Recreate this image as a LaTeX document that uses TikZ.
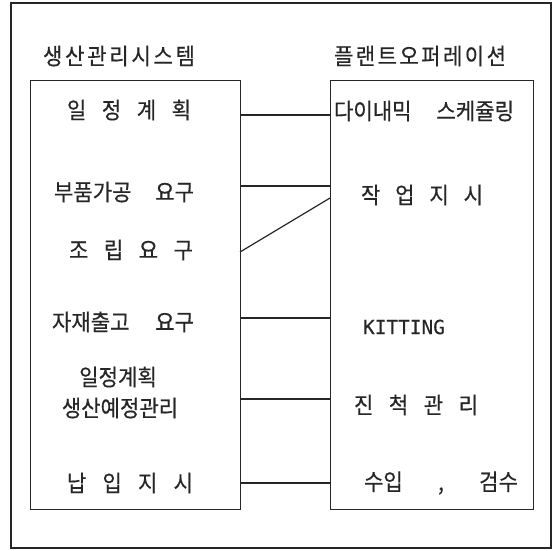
\documentclass[tikz,border=0pt]{standalone}
\usepackage{fontspec}
\setmainfont{Noto Sans CJK KR}
\newfontfamily\kr[FakeStretch=0.92,FakeBold=0.4]{Noto Sans CJK KR}
\newfontfamily\monofont[FakeBold=0.3]{DejaVu Sans Mono}
\newcommand{\spreadtxt}[2]{\makebox[#1bp][s]{#2}}
\begin{document}
\begin{tikzpicture}[x=1bp,y=-1bp,
  frame/.style={draw=black!85,line width=1.2bp},
  link/.style={draw=black!85,line width=1.2bp},
  lbl/.style={inner sep=0pt,font=\kr\fontsize{23}{26}\selectfont,text=black!85},
  mono/.style={inner sep=0pt,font=\monofont\fontsize{19.5}{22}\selectfont,text=black!85}]
\useasboundingbox (0,0) rectangle (556,551);
% outer frame
\draw[frame] (11,3) rectangle (551,548);
% boxes
\node[frame,inner sep=0pt,minimum width=210bp,minimum height=429bp,anchor=north west] (L) at (30,80) {};
\node[frame,inner sep=0pt,minimum width=203bp,minimum height=429bp,anchor=north west] (R) at (330,80) {};
% titles
\node[lbl] (tl) at (119,56) {\spreadtxt{152}{생\hfill 산\hfill 관\hfill 리\hfill 시\hfill 스\hfill 템}};
\node[lbl] (tr) at (420,56) {\spreadtxt{172}{플\hfill 랜\hfill 트\hfill 오\hfill 퍼\hfill 레\hfill 이\hfill 션}};
% left items
\node[lbl] (a1) at (129,110) {\spreadtxt{124}{일\hfill 정\hfill 계\hfill 획}};
\node[lbl] (a2) at (124,192) {\spreadtxt{140}{부품가공\hfill 요구}};
\node[lbl] (a3) at (131,250) {\spreadtxt{124}{조\hfill 립\hfill 요\hfill 구}};
\node[lbl] (a4) at (123,322) {\spreadtxt{142}{자재출고\hfill 요구}};
\node[lbl] (a5) at (118,377) {일정계획};
\node[lbl] (a6) at (120,408) {생산예정관리};
\node[lbl] (a7) at (130,483) {\spreadtxt{126}{납\hfill 입\hfill 지\hfill 시}};
% right items
\node[lbl] (b1) at (424,111) {\spreadtxt{180}{다이내믹\hfill 스케쥴링}};
\node[lbl] (b2) at (422,195) {\spreadtxt{122}{작\hfill 업\hfill 지\hfill 시}};
\node[mono] (b3) at (404,327) {KITTING};
\node[lbl] (b4) at (416,405) {\spreadtxt{124}{진\hfill 척\hfill 관\hfill 리}};
\node[lbl] (b5) at (441,483) {\spreadtxt{154}{수입\hfill ,\hfill 검수}};
% connector end points on box edges
\coordinate (l1) at (240,115); \coordinate (r1) at (330,115);
\coordinate (l2) at (240,186); \coordinate (r2) at (330,186);
\coordinate (l3) at (240,252); \coordinate (r3) at (330,198);
\coordinate (l4) at (240,318); \coordinate (r4) at (330,318);
\coordinate (l5) at (240,399); \coordinate (r5) at (330,399);
\coordinate (l6) at (240,483); \coordinate (r6) at (330,483);
\draw[link] (l1) -- (r1);
\draw[link] (l2) -- (r2);
\draw[link] (l3) -- (r3);
\draw[link] (l4) -- (r4);
\draw[link] (l5) -- (r5);
\draw[link] (l6) -- (r6);
\end{tikzpicture}
\end{document}
